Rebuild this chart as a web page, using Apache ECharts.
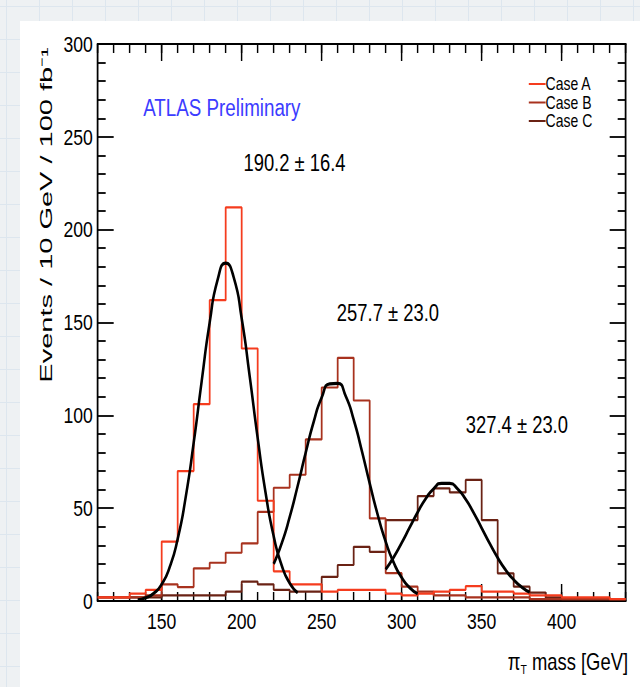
<!DOCTYPE html>
<html>
<head>
<meta charset="utf-8">
<script src="https://cdn.jsdelivr.net/npm/echarts@6/dist/echarts.min.js"></script>
<style>
  html, body { margin: 0; padding: 0; width: 640px; height: 687px; overflow: hidden; }
  body {
    background-color: #eef1f3;
    background-image:
      linear-gradient(#dde6ee 1px, transparent 1px),
      linear-gradient(90deg, #dde6ee 1px, transparent 1px);
    background-size: 33px 33px;
    background-position: 6px 6px;
  }
  #panel { position: absolute; left: 20px; top: 21px; width: 620px; height: 666px; background: #fff; }
  /* The plot is laid out on an 800px-wide canvas and narrowed to 640px,
     giving the condensed Helvetica look of the original figure. */
  #chart {
    position: absolute; left: 0; top: 0; width: 800px; height: 687px;
    transform: scaleX(0.8); transform-origin: 0 0;
  }
</style>
</head>
<body>
<div id="panel"></div>
<div id="chart"></div>
<script>
// Histogram binning: 10 GeV bins covering the visible mass range
const binStart = 110;
const binWidth = 10;
const massMax = 440;

// Events per bin (one value per 10 GeV bin, starting at 110 GeV)
const caseA = [2, 2, 4, 6, 32, 70, 106, 162, 212, 136, 54, 16, 9, 9, 5, 6, 6, 6, 4, 3, 4, 5, 6, 8, 5, 5, 4, 3, 3, 2, 2, 2, 1];
const caseB = [2, 2, 2, 3, 9, 7.5, 17.6, 20.6, 26, 31, 48, 61, 68, 87, 115, 131, 108, 44.5, 15, 7.7, 5, 3, 3, 2, 2, 2, 2, 1, 1, 1, 1, 1, 1];
const caseC = [2, 2, 2, 2, 3, 3, 3, 3, 5, 10.4, 9, 6, 5, 5, 13, 19.4, 29.2, 26.5, 43.6, 43.6, 56.5, 60.7, 58.5, 65.2, 43.6, 14.9, 7.7, 4.5, 2, 1, 1, 1, 1];

const seriesNames = ['Case A', 'Case B', 'Case C'];
const seriesColors = ['#f53c1e', '#a8321e', '#6a2214'];

// Fitted peak parameters shown as text
const fitMean = [190.2, 257.7, 327.4];
const fitErr = [16.4, 23.0, 23.0];
const fitLabelAnchor = [[233, 236], [291.4, 155], [372, 94.8]];

// Gaussian fit curves, sampled every 5 GeV
const fit1Mass = [135, 140, 145, 150, 155, 160, 165, 170, 175, 180, 185, 190, 195, 200, 205, 210, 215, 220, 225, 230, 235];
const fit1Vals = [0.6, 1.7, 4.1, 9.0, 18.2, 33.4, 55.9, 85.2, 118.4, 150, 173.1, 182, 174.4, 152.2, 121.1, 87.8, 58.0, 34.9, 19.2, 9.6, 4.4];
const fit2Mass = [220, 225, 230, 235, 240, 245, 250, 255, 260, 265, 270, 275, 280, 285, 290, 295, 300, 305, 310];
const fit2Vals = [20.0, 31.0, 45.2, 62.0, 79.8, 96.5, 109.6, 116.9, 117.2, 110.4, 97.7, 81.2, 63.4, 46.5, 32.0, 20.7, 12.6, 7.2, 3.9];
const fit3Mass = [290, 295, 300, 305, 310, 315, 320, 325, 330, 335, 340, 345, 350, 355, 360, 365, 370, 375, 380];
const fit3Vals = [17.0, 23.6, 31.3, 39.6, 47.8, 55.1, 60.5, 63.4, 63.3, 60.3, 54.8, 47.5, 39.3, 31.0, 23.3, 16.7, 11.5, 7.5, 4.7];

// Axis ticks and labels
const xMajorTicks = [150, 200, 250, 300, 350, 400];
const xTickLabels = ['150', '200', '250', '300', '350', '400'];
const yMin = 0, yMax = 300, yStep = 50;

const FONT = "'Liberation Sans', Arial, Helvetica, sans-serif";

// Build step-histogram polylines from bin contents
function histPoints(vals) {
  const pts = vals.map((v, i) => [binStart + i * binWidth, v]);
  pts.push([binStart + vals.length * binWidth, vals[vals.length - 1]]);
  return pts;
}
function zip(xs, ys) { return xs.map((x, i) => [x, ys[i]]); }

const histos = [caseA, caseB, caseC];
const series = [];
histos.forEach((vals, i) => {
  series.push({
    name: seriesNames[i], type: 'line', step: 'end', symbol: 'none',
    data: histPoints(vals), xAxisIndex: 0, yAxisIndex: 0,
    lineStyle: { color: seriesColors[i], width: 2.2 },
    itemStyle: { color: seriesColors[i] },
    z: 5 - i
  });
});
[[fit1Mass, fit1Vals], [fit2Mass, fit2Vals], [fit3Mass, fit3Vals]].forEach((f, i) => {
  series.push({
    name: 'fit' + (i + 1), type: 'line', smooth: 0.6, symbol: 'none',
    data: zip(f[0], f[1]), xAxisIndex: 0, yAxisIndex: 0,
    lineStyle: { color: '#000', width: 3.2 }, z: 6
  });
});
series.push({
  name: 'fitText', type: 'scatter', symbolSize: 0, xAxisIndex: 0, yAxisIndex: 0,
  itemStyle: { opacity: 1 },
  data: fitLabelAnchor.map((p, i) => ({
    value: p, name: fitMean[i].toFixed(1) + ' \u00b1 ' + fitErr[i].toFixed(1)
  })),
  label: {
    show: true, position: 'inside', formatter: p => p.name,
    color: '#000', fontFamily: FONT, fontSize: 23
  },
  emphasis: { disabled: true },
  silent: true, z: 7
});

const axisLine = { show: true, lineStyle: { color: '#000', width: 2.2 } };
const tickStyle = { color: '#000', width: 1.8 };
const labelStyle = { color: '#000', fontFamily: FONT, fontSize: 22 };

function minorX(pos) {
  return {
    type: 'value', position: pos, min: binStart, max: massMax, interval: binWidth,
    axisLine: axisLine,
    axisTick: { show: true, inside: true, length: 9, lineStyle: tickStyle },
    axisLabel: { show: false }, splitLine: { show: false }
  };
}
function majorX(pos, showLabels) {
  return {
    type: 'value', position: pos, min: binStart, max: massMax,
    axisLine: { show: false },
    axisTick: { show: true, inside: true, length: 17, lineStyle: tickStyle, customValues: xMajorTicks },
    axisLabel: Object.assign({
      show: showLabels, customValues: xMajorTicks, margin: 9,
      formatter: v => xTickLabels[xMajorTicks.indexOf(v)]
    }, labelStyle),
    splitLine: { show: false }
  };
}
function yAx(pos, showLabels) {
  return {
    type: 'value', position: pos, min: yMin, max: yMax, interval: yStep,
    axisLine: axisLine,
    axisTick: { show: true, inside: true, length: 20, lineStyle: tickStyle },
    minorTick: { show: true, splitNumber: 5, length: 10, lineStyle: tickStyle },
    axisLabel: Object.assign({ show: showLabels, margin: 6, padding: [5, 0, 0, 0] }, labelStyle),
    splitLine: { show: false }
  };
}

const chart = echarts.init(document.getElementById('chart'), null, { renderer: 'svg', width: 800, height: 687 });
chart.setOption({
  backgroundColor: 'transparent',
  animation: false,
  grid: { left: 122.1, right: 17.9, top: 44, bottom: 86, containLabel: false },
  xAxis: [minorX('bottom'), majorX('bottom', true), minorX('top'), majorX('top', false)],
  yAxis: [yAx('left', true), yAx('right', false)],
  legend: {
    data: seriesNames, orient: 'vertical', left: 656, top: 70,
    icon: 'rect', itemWidth: 21, itemHeight: 2, itemGap: 0.5,
    textStyle: { color: '#000', fontFamily: FONT, fontSize: 17.5, padding: [0, 0, 0, -5] },
    selectedMode: false
  },
  title: {
    text: 'ATLAS Preliminary', left: 174, top: 91,
    textStyle: { color: '#3c3cff', fontFamily: FONT, fontSize: 23.5, fontWeight: 'normal' }
  },
  graphic: [
    {
      type: 'text', x: 58, y: 215, rotation: Math.PI / 2, scaleY: 0.72,
      style: {
        text: 'Events / 10 GeV / 100 fb\u207b\u00b9', align: 'center', verticalAlign: 'middle',
        fill: '#000', font: '29px ' + FONT
      }
    },
    {
      type: 'text', x: 785, y: 662,
      style: {
        text: '{p|\u03c0}{s|T}{m| mass [GeV]}', align: 'right', verticalAlign: 'middle',
        rich: {
          p: { fill: '#000', fontFamily: FONT, fontSize: 23 },
          s: { fill: '#000', fontFamily: FONT, fontSize: 13, padding: [14, 0, 0, 0] },
          m: { fill: '#000', fontFamily: FONT, fontSize: 23 }
        }
      }
    }
  ],
  series: series
});
</script>
</body>
</html>
